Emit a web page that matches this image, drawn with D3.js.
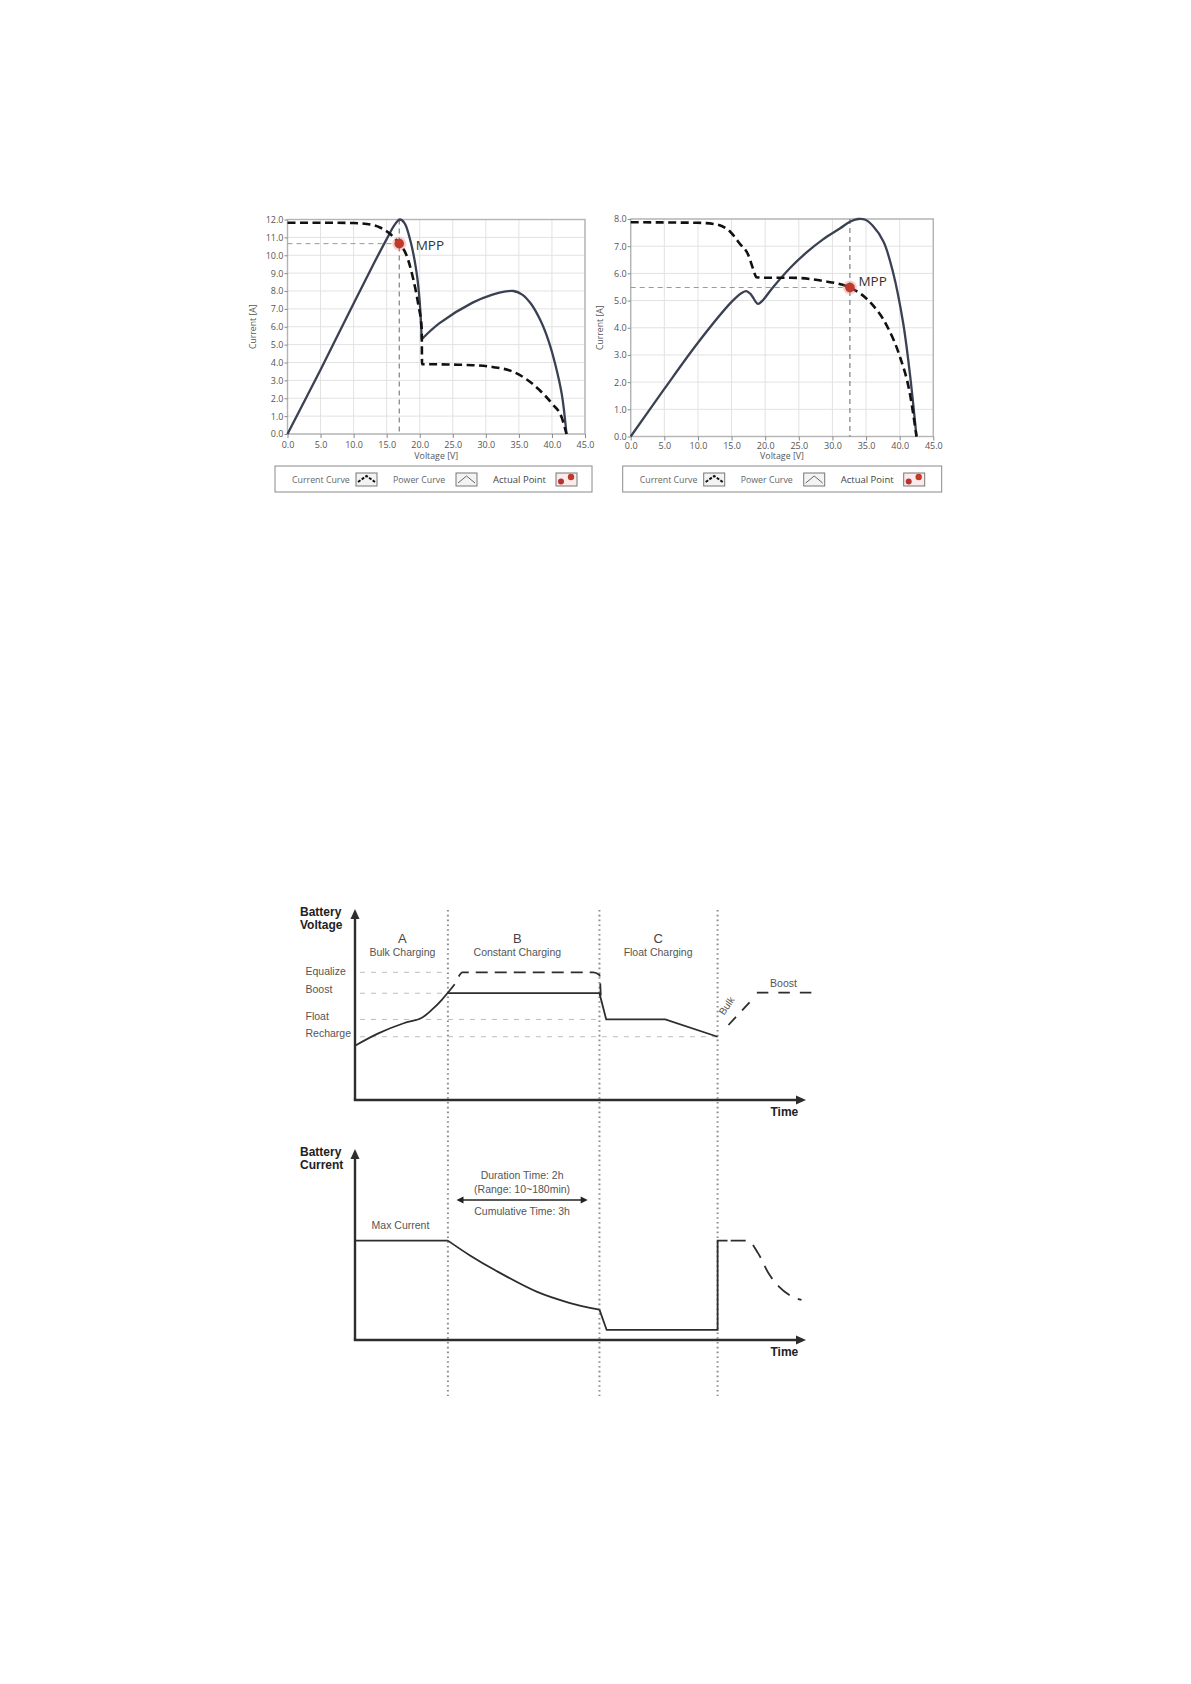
<!DOCTYPE html>
<html><head><meta charset="utf-8">
<script src="https://cdn.jsdelivr.net/npm/d3@7/dist/d3.min.js"></script>
<style>
html,body{margin:0;padding:0;background:#fff;}
svg{display:block;}
</style></head>
<body>
<svg id="c" width="1191" height="1684"></svg>
<script>
// ================= DATA =================
const voltageTicks = [0, 5, 10, 15, 20, 25, 30, 35, 40, 45];
const leftCurrentTicks = [0,1,2,3,4,5,6,7,8,9,10,11,12];
const rightCurrentTicks = [0,1,2,3,4,5,6,7,8];

// [voltage V, current A]
const leftCurrentCurve = [[0,11.82],[5,11.82],[10,11.8],[12,11.75],[14,11.55],[15.5,11.2],[16.9,10.65],[18,10.0],[19,8.7],[19.8,7.2],[20.3,5.9],[20.35,3.9],[22,3.9],[25,3.88],[28,3.85],[31,3.75],[34,3.5],[36,3.1],[38,2.5],[40,1.7],[41.5,0.9],[42.2,0]];
const leftPowerCurve = [[0,0],[5,3.6],[10,7.3],[13,9.5],[15,10.9],[16.2,11.7],[17,12.0],[17.7,11.8],[18.6,10.8],[19.5,9.1],[20,7.4],[20.3,5.3],[23,6.2],[28,7.35],[31,7.8],[33,7.98],[34.2,8.0],[35.5,7.8],[36.8,7.3],[38.2,6.4],[39.5,5.2],[40.5,3.9],[41.5,2.2],[42.2,0]];
const leftMPP = [16.9, 10.65];

const rightCurrentCurve = [[0,7.88],[10,7.86],[12.8,7.8],[14.8,7.53],[16.2,7.1],[17.5,6.67],[18.2,6.17],[18.7,5.86],[19.7,5.84],[23.7,5.84],[28.6,5.72],[32.6,5.48],[35.6,4.94],[38.1,4.07],[40,2.96],[41.5,1.6],[42.5,0]];
const rightPowerCurve = [[0,0],[5,1.75],[10,3.45],[15,4.95],[16.5,5.28],[17.2,5.35],[17.9,5.22],[18.9,4.88],[19.6,5.0],[21.2,5.5],[23.7,6.2],[26.2,6.78],[28.6,7.25],[31.1,7.65],[32.6,7.9],[33.8,8.0],[34.8,7.98],[36,7.75],[37.6,7.16],[39,6.05],[40.5,4.2],[41.5,2.35],[42.5,0]];
const rightMPP = [32.6, 5.48];

const legendLabels = ["Current Curve", "Power Curve", "Actual Point"];

// ---- charging profile (time in arbitrary units 0..100, levels 0..10) ----
const phaseBounds = [20.6, 54.2, 80.4];
const phaseLetters = ["A", "B", "C"];
const phaseNames = ["Bulk Charging", "Constant Charging", "Float Charging"];
const phaseCenters = [10.5, 36.0, 67.2];
const levelNames = ["Equalize", "Boost", "Float", "Recharge"];
const levelValues = [6.72, 5.62, 4.24, 3.33];
const levelEnds = [20.3, 20.3, 54.2, 80.4];

const voltageBulk = [[0,2.86],[5.17,3.51],[10.8,4.04],[14.6,4.3],[17.0,4.74],[19.2,5.26],[21.4,5.88],[22.1,6.09]];
const voltageMain = [[20.6,5.62],[54.2,5.62],[55.7,4.24],[68.8,4.24],[80.4,3.33]];
const voltageEqualize = [[23.0,6.5],[23.8,6.72],[52.8,6.72],[54.2,6.58],[54.5,5.5]];
const voltageRebulk = [[80.4,3.33],[88.1,5.3]];
const voltageReboost = [[89.1,5.65],[102,5.65]];

const currentFlat = [[0,5.23],[20.6,5.23]];
const currentDecay = [[20.6,5.23],[25.5,4.45],[31.0,3.68],[40.4,2.53],[47.5,1.96],[54.2,1.6]];
const currentFloat = [[54.2,1.6],[55.8,0.53],[80.4,0.53],[80.4,5.23],[82.6,5.23]];
const currentNext = [[83.3,5.23],[87.1,5.23],[89.4,4.56],[91.7,3.51],[94.0,2.81],[96.3,2.37],[99.0,2.11]];
const durationSpan = [22.5, 51.6];
const durationLines = ["Duration Time: 2h", "(Range: 10~180min)", "Cumulative Time: 3h"];

// ================= DRAW =================
const svg = d3.select("#c");
const FONT = "'Open Sans', 'Noto Sans', sans-serif";
const AFONT = "'Liberation Sans', Arial, sans-serif";

function ivChart(cfg) {
  const x = d3.scaleLinear().domain([0, 45]).range([cfg.x0, cfg.x1]);
  const y = d3.scaleLinear().domain([0, cfg.ymax]).range([cfg.y0, cfg.y1]);
  const g = svg.append("g");

  g.append("rect").attr("x", cfg.x0).attr("y", cfg.y1)
    .attr("width", cfg.x1 - cfg.x0).attr("height", cfg.y0 - cfg.y1).attr("fill", "#fff");
  g.selectAll(".vg").data(voltageTicks).join("line")
    .attr("x1", d => x(d)).attr("x2", d => x(d)).attr("y1", cfg.y0).attr("y2", cfg.y1)
    .attr("stroke", "#e2e2e2").attr("stroke-width", 1);
  g.selectAll(".hg").data(cfg.yTicks).join("line")
    .attr("x1", cfg.x0).attr("x2", cfg.x1).attr("y1", d => y(d)).attr("y2", d => y(d))
    .attr("stroke", "#e2e2e2").attr("stroke-width", 1);
  g.append("rect").attr("x", cfg.x0).attr("y", cfg.y1)
    .attr("width", cfg.x1 - cfg.x0).attr("height", cfg.y0 - cfg.y1)
    .attr("fill", "none").attr("stroke", "#b4b4b4").attr("stroke-width", 1.4);

  const xa = g.append("g").attr("transform", `translate(0,${cfg.y0})`)
    .call(d3.axisBottom(x).tickValues(voltageTicks).tickFormat(d3.format(".1f")).tickSize(4).tickPadding(cfg.xPad));
  const ya = g.append("g").attr("transform", `translate(${cfg.x0},0)`)
    .call(d3.axisLeft(y).tickValues(cfg.yTicks).tickFormat(d3.format(".1f")).tickSize(3).tickPadding(1));
  [xa, ya].forEach(a => {
    a.select(".domain").remove();
    a.selectAll(".tick line").attr("stroke", "#888");
    a.selectAll("text").attr("font-family", FONT).attr("font-size", "9px").attr("fill", "#555");
  });

  g.append("text").attr("x", (cfg.x0 + cfg.x1) / 2).attr("y", 458.5)
    .attr("text-anchor", "middle").attr("font-family", FONT).attr("font-size", "8.8px").attr("fill", "#555")
    .text("Voltage [V]");
  g.append("text").attr("transform", `translate(${cfg.ylabX},${(cfg.y0 + cfg.y1) / 2}) rotate(-90)`)
    .attr("text-anchor", "middle").attr("font-family", FONT).attr("font-size", "8.7px").attr("fill", "#555")
    .text("Current [A]");

  const mx = x(cfg.mpp[0]), my = y(cfg.mpp[1]);
  g.append("line").attr("x1", x(0)).attr("x2", mx).attr("y1", my).attr("y2", my)
    .attr("stroke", "#9a9a9a").attr("stroke-width", 1).attr("stroke-dasharray", "5,4");
  g.append("line").attr("x1", mx).attr("x2", mx).attr("y1", y(cfg.ymax)).attr("y2", y(0))
    .attr("stroke", "#666").attr("stroke-width", 1).attr("stroke-dasharray", "5,4");

  const smooth = d3.line().x(d => x(d[0])).y(d => y(d[1])).curve(d3.curveCatmullRom.alpha(0.5));
  const mono = d3.line().x(d => x(d[0])).y(d => y(d[1])).curve(d3.curveMonotoneX);
  let pieces = [cfg.power];
  if (cfg.cusp != null) {
    const k = cfg.power.findIndex(d => d[0] === cfg.cusp);
    pieces = [cfg.power.slice(0, k + 1), cfg.power.slice(k)];
  }
  pieces.forEach(p => g.append("path").attr("d", smooth(p)).attr("fill", "none")
    .attr("stroke", "#394152").attr("stroke-width", 2.3).attr("stroke-linejoin", "round"));
  g.append("path").attr("d", mono(cfg.current)).attr("fill", "none")
    .attr("stroke", "#111").attr("stroke-width", 2.6).attr("stroke-dasharray", "8,4.5");

  g.append("circle").attr("cx", mx).attr("cy", my).attr("r", 7).attr("fill", "rgba(225,120,120,0.35)");
  g.append("circle").attr("cx", mx).attr("cy", my).attr("r", 4.8).attr("fill", "#c0392b");
  g.append("text").attr("x", mx + cfg.mppDx).attr("y", my + cfg.mppDy)
    .attr("font-family", FONT).attr("font-size", "13.5px").attr("fill", "#333").text("MPP");

  // legend
  const lg = g.append("g").attr("transform", `translate(${cfg.legX},466)`);
  lg.append("rect").attr("x", 0).attr("y", 0).attr("width", cfg.legW).attr("height", 26)
    .attr("fill", "#fff").attr("stroke", "#8a8a8a").attr("stroke-width", 1);
  const textOff = [17, 118, 218], iconOff = [81, 181, 281];
  legendLabels.forEach((lab, i) => {
    lg.append("text").attr("x", textOff[i]).attr("y", 16.5)
      .attr("font-family", FONT).attr("font-size", i === 2 ? "9.5px" : "8.8px")
      .attr("fill", i === 2 ? "#444" : "#666").text(lab);
    const ic = lg.append("g").attr("transform", `translate(${iconOff[i]},7)`);
    ic.append("rect").attr("width", 21).attr("height", 13)
      .attr("fill", i === 2 ? "#fbeaea" : "#f3f3f3").attr("stroke", "#777").attr("stroke-width", 1);
    if (i === 0) {
      ic.append("path").attr("d", "M2,9 L10.5,3 L19,9").attr("fill", "none")
        .attr("stroke", "#111").attr("stroke-width", 2).attr("stroke-dasharray", "3,1.5");
    } else if (i === 1) {
      ic.append("path").attr("d", "M2,10 L10.5,3 L19,10").attr("fill", "none")
        .attr("stroke", "#666").attr("stroke-width", 1);
    } else {
      ic.append("circle").attr("cx", 5).attr("cy", 8.5).attr("r", 3).attr("fill", "#b83232");
      ic.append("circle").attr("cx", 15).attr("cy", 4).attr("r", 3.2).attr("fill", "#c0392b");
    }
  });
}

ivChart({x0: 287.5, x1: 585, y0: 434, y1: 219.5, ymax: 12, yTicks: leftCurrentTicks,
  current: leftCurrentCurve, power: leftPowerCurve, cusp: 20.3, mpp: leftMPP, mppDx: 16.5, mppDy: 6,
  ylabX: 256, legX: 275, legW: 317, xPad: 3.5});
ivChart({x0: 630.7, x1: 933.3, y0: 436.5, y1: 219, ymax: 8, yTicks: rightCurrentTicks,
  current: rightCurrentCurve, power: rightPowerCurve, cusp: null, mpp: rightMPP, mppDx: 8.5, mppDy: -2,
  ylabX: 603, legX: 622.7, legW: 319, xPad: 2});

// ---------- charging profile ----------
const xT = d3.scaleLinear().domain([0, 100]).range([355, 806]);
const yV = d3.scaleLinear().domain([0, 10]).range([1100, 910]);
const yI = d3.scaleLinear().domain([0, 10]).range([1340, 1150]);
const cg = svg.append("g");
const DARK = "#2d2d2d";

cg.selectAll(".sep").data(phaseBounds).join("line")
  .attr("x1", d => xT(d)).attr("x2", d => xT(d)).attr("y1", 910).attr("y2", 1396)
  .attr("stroke", "#8c8c8c").attr("stroke-width", 2).attr("stroke-dasharray", "1.6,3.2");

cg.selectAll(".lvl").data(levelValues).join("line")
  .attr("x1", xT(1.1)).attr("x2", (d, i) => xT(levelEnds[i]))
  .attr("y1", d => yV(d)).attr("y2", d => yV(d))
  .attr("stroke", "#bdbdbd").attr("stroke-width", 1).attr("stroke-dasharray", "5,6");
cg.selectAll(".lvlt").data(levelNames).join("text")
  .attr("x", 305.5).attr("y", (d, i) => yV(levelValues[i]) + [2.3, 0, 1.0, 0][i])
  .attr("font-family", AFONT).attr("font-size", "10.5px").attr("fill", "#555").text(d => d);

cg.selectAll(".pl").data(phaseLetters).join("text")
  .attr("x", (d, i) => xT(phaseCenters[i])).attr("y", 942.5).attr("text-anchor", "middle")
  .attr("font-family", AFONT).attr("font-size", "13px").attr("fill", "#444").text(d => d);
cg.selectAll(".pn").data(phaseNames).join("text")
  .attr("x", (d, i) => xT(phaseCenters[i])).attr("y", 956).attr("text-anchor", "middle")
  .attr("font-family", AFONT).attr("font-size", "10.5px").attr("fill", "#555").text(d => d);

const lineT = (ys, curve) => d3.line().x(d => xT(d[0])).y(d => ys(d[1])).curve(curve || d3.curveLinear);

cg.append("path").attr("d", lineT(yV, d3.curveCatmullRom.alpha(0.5))(voltageBulk)).attr("fill", "none")
  .attr("stroke", DARK).attr("stroke-width", 1.8);
cg.append("path").attr("d", lineT(yV)(voltageMain)).attr("fill", "none")
  .attr("stroke", DARK).attr("stroke-width", 1.8);
cg.append("path").attr("d", lineT(yV, d3.curveMonotoneX)(voltageEqualize)).attr("fill", "none")
  .attr("stroke", DARK).attr("stroke-width", 1.8).attr("stroke-dasharray", "12,7");
cg.append("path").attr("d", lineT(yV)(voltageRebulk)).attr("fill", "none")
  .attr("stroke", DARK).attr("stroke-width", 1.8).attr("stroke-dasharray", "0,16,11,9,11,100");
cg.append("path").attr("d", lineT(yV)(voltageReboost)).attr("fill", "none")
  .attr("stroke", DARK).attr("stroke-width", 1.8).attr("stroke-dasharray", "11.5,10");
cg.append("text").attr("transform", `translate(${xT(80.4) + 12},${yV(3.33) - 29}) rotate(-55)`)
  .attr("text-anchor", "middle").attr("font-family", AFONT).attr("font-size", "10px").attr("fill", "#555").text("Bulk");
cg.append("text").attr("x", 783.5).attr("y", 986.5).attr("text-anchor", "middle")
  .attr("font-family", AFONT).attr("font-size", "10.5px").attr("fill", "#555").text("Boost");

cg.append("path").attr("d", lineT(yI)(currentFlat)).attr("fill", "none").attr("stroke", DARK).attr("stroke-width", 1.8);
cg.append("path").attr("d", lineT(yI, d3.curveCatmullRom.alpha(0.5))(currentDecay)).attr("fill", "none").attr("stroke", DARK).attr("stroke-width", 1.8);
cg.append("path").attr("d", lineT(yI)(currentFloat)).attr("fill", "none").attr("stroke", DARK).attr("stroke-width", 1.8);
cg.append("path").attr("d", lineT(yI, d3.curveMonotoneX)(currentNext)).attr("fill", "none")
  .attr("stroke", DARK).attr("stroke-width", 1.8).attr("stroke-dasharray", "15,9");
cg.append("text").attr("x", 400.5).attr("y", 1229).attr("text-anchor", "middle")
  .attr("font-family", AFONT).attr("font-size", "10.5px").attr("fill", "#555").text("Max Current");

const ay = 1200;
cg.append("line").attr("x1", xT(durationSpan[0]) + 5).attr("x2", xT(durationSpan[1]) - 5)
  .attr("y1", ay).attr("y2", ay).attr("stroke", "#222").attr("stroke-width", 1.6);
cg.append("path").attr("d", `M${xT(durationSpan[0])},${ay} l7,-3.5 l0,7 z`).attr("fill", "#222");
cg.append("path").attr("d", `M${xT(durationSpan[1])},${ay} l-7,-3.5 l0,7 z`).attr("fill", "#222");
const dcx = (xT(durationSpan[0]) + xT(durationSpan[1])) / 2;
cg.selectAll(".dur").data(durationLines).join("text")
  .attr("x", dcx).attr("y", (d, i) => [1179, 1193, 1214.5][i]).attr("text-anchor", "middle")
  .attr("font-family", AFONT).attr("font-size", "10.5px").attr("fill", "#555").text(d => d);

function axesPanel(ys, title2, yTop) {
  const x0 = xT(0), y0 = ys(0);
  cg.append("line").attr("x1", x0).attr("x2", x0).attr("y1", y0).attr("y2", yTop + 8)
    .attr("stroke", DARK).attr("stroke-width", 2.4);
  cg.append("path").attr("d", `M${x0},${yTop} l-4.5,10 l9,0 z`).attr("fill", DARK);
  cg.append("line").attr("x1", x0 - 1.2).attr("x2", xT(100) - 8).attr("y1", y0).attr("y2", y0)
    .attr("stroke", DARK).attr("stroke-width", 2.4);
  cg.append("path").attr("d", `M${xT(100)},${y0} l-10,-4.5 l0,9 z`).attr("fill", DARK);
  cg.append("text").attr("x", 770.5).attr("y", y0 + 15.5)
    .attr("font-family", AFONT).attr("font-size", "12px").attr("font-weight", "bold").attr("fill", "#222").text("Time");
  const t = cg.append("text").attr("font-family", AFONT).attr("font-size", "12px")
    .attr("font-weight", "bold").attr("fill", "#222");
  t.append("tspan").attr("x", 300).attr("y", yTop + 6.5).text("Battery");
  t.append("tspan").attr("x", 300).attr("y", yTop + 20).text(title2);
}
axesPanel(yV, "Voltage", 909);
axesPanel(yI, "Current", 1149);
</script>
</body></html>
